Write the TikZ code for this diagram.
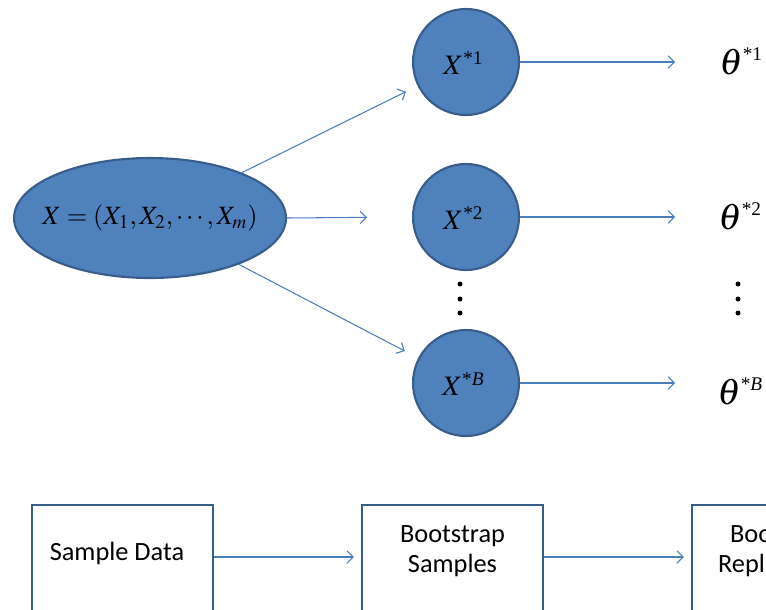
\documentclass[tikz,border=0pt]{standalone}
\usepackage{mathptmx}
\usepackage{fontspec}
\setmainfont{Liberation Serif}
\newfontfamily\boxfont{Carlito}
\usetikzlibrary{shapes.geometric,arrows.meta,positioning}
\definecolor{sampfill}{HTML}{4F81BD}
\definecolor{sampedge}{HTML}{385D8A}
\definecolor{linkblue}{HTML}{4A7EBB}
% small raised superscript as in the equation editor
\newcommand{\supstar}[2][11]{^{\mbox{\fontsize{#1}{13}\selectfont *#2}}}

\begin{document}
\begin{tikzpicture}[
    x=0.02cm, y=-0.02cm,
    data/.style={ellipse, draw=sampedge, line width=1.2pt, fill=sampfill, minimum width=5.44cm, minimum height=2.4cm, inner sep=0pt, font=\fontsize{15}{18}\selectfont},
    resample/.style={circle, draw=sampedge, line width=1.2pt, fill=sampfill, minimum size=2.12cm, inner sep=0pt, font=\fontsize{16}{19}\selectfont},
    stat/.style={anchor=base west, inner sep=0pt, font=\fontsize{21}{24}\selectfont},
    box/.style={rectangle, draw=sampedge, line width=1.4pt, minimum width=3.62cm, minimum height=2.4cm},
    boxtext/.style={align=center, font=\boxfont\fontsize{15}{17}\selectfont},
    link/.style={-{Straight Barb[length=3.5pt,width=7pt]}, draw=linkblue, line width=0.6pt}
]
    \useasboundingbox (0,0) rectangle (766,609);
    \clip (0,0) rectangle (766,609);

    % sample and bootstrap samples
    \node[data] (sample) at (150,218) {\makebox[0pt]{$X=(X_1,X_2,\cdots,X_m)$}};
    \node[resample] (x1) at (466,62) {$X\supstar{1}$\hspace{0.1cm}\vphantom{\rule{0pt}{0.5cm}}};
    \node[resample] (x2) at (466,217) {$X\supstar{2}$\hspace{0.1cm}\vphantom{\rule{0pt}{0.5cm}}};
    \node[resample] (xB) at (466,383) {$X\supstar{\itshape B}$\hspace{0.1cm}\vphantom{\rule{0pt}{0.5cm}}};

    % replications
    \node[stat] (theta1) at (719,74) {$\theta\supstar{1}$};
    \node[stat] (theta2) at (718,229) {$\theta\supstar{2}$};
    \node[stat] (thetaB) at (717,404) {$\theta\supstar{\itshape B}$};

    \foreach \x in {460,738}
        \foreach \y in {284,299,313}
            \fill (\x,\y) circle (0.05cm);

    \draw[link, shorten >=0.26cm] (sample) -- (x1);
    \draw[link, shorten >=0.9cm] (sample.east) -- (x2.west);
    \draw[link, shorten >=0.3cm] (sample) -- (xB);

    \draw[link, shorten >=0.88cm] (x1.east) -- (x1.east -| theta1.west);
    \draw[link, shorten >=0.86cm] (x2.east) -- (x2.east -| theta2.west);
    \draw[link, shorten >=0.84cm] (xB.east) -- (xB.east -| thetaB.west);

    % flow boxes
    \node[box] (data) at (122.5,565) {};
    \node[box] (boot) at (452.5,565) {};
    \node[box] (repl) at (782.5,565) {};
    \node[boxtext] (datatxt) at (117,553) {Sample Data};
    \node[boxtext] (boottxt) at (452.5,551) {Bootstrap\\Samples};
    \node[boxtext] (repltxt) at (782.5,551) {Bootstrap\\Replications};

    \draw[link, shorten >=0.14cm] ([yshift=0.16cm]data.east) -- ([yshift=0.16cm]boot.west);
    \draw[link, shorten >=0.14cm] ([yshift=0.16cm]boot.east) -- ([yshift=0.16cm]repl.west);
\end{tikzpicture}
\end{document}
